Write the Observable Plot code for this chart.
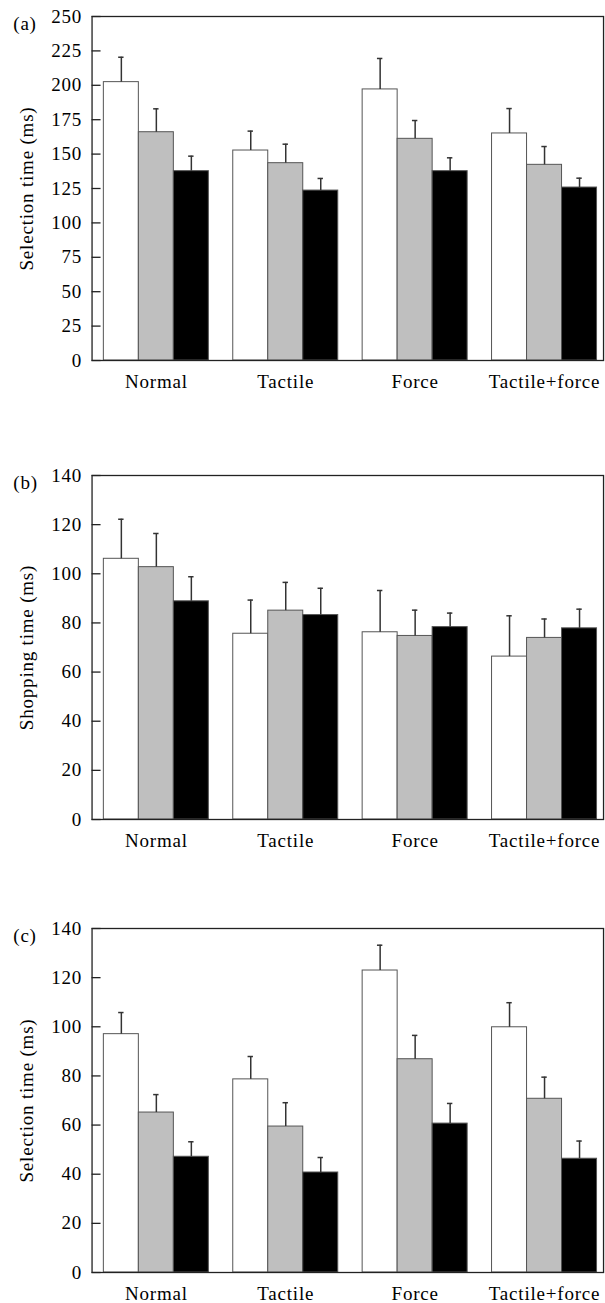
<!DOCTYPE html>
<html>
<head>
<meta charset="utf-8">
<script src="https://cdn.jsdelivr.net/npm/d3@7"></script>
<script src="https://cdn.jsdelivr.net/npm/@observablehq/plot@0.6"></script>
<style>
  html, body { margin: 0; padding: 0; background: white; }
  #chart svg { display: block; }
</style>
</head>
<body>
<div id="chart"></div>
<script>
// Categories
const groups = ["Normal", "Tactile", "Force", "Tactile+force"];
const seriesKeys = ["1", "2", "3"];

// Panel (a) Selection time (ms)
const aWhite = [202.3, 152.6, 197.0, 165.0];
const aGray  = [165.9, 143.4, 161.1, 142.2];
const aBlack = [137.6, 123.5, 137.6, 125.7];
const aWhiteErr = [18.1, 14.1, 22.5, 18.1];
const aGrayErr  = [17.0, 13.8, 13.3, 13.3];
const aBlackErr = [10.9, 8.8, 9.7, 6.8];
const aTicks = [0, 25, 50, 75, 100, 125, 150, 175, 200, 225, 250];

// Panel (b) Shopping time (ms)
const bWhite = [106.1, 75.6, 76.2, 66.3];
const bGray  = [102.7, 85.0, 74.7, 73.9];
const bBlack = [88.8, 83.2, 78.3, 77.8];
const bWhiteErr = [16.1, 13.7, 17.0, 16.6];
const bGrayErr  = [13.7, 11.5, 10.5, 7.7];
const bBlackErr = [10.0, 10.9, 5.7, 7.8];
const bTicks = [0, 20, 40, 60, 80, 100, 120, 140];

// Panel (c) Selection time (ms)
const cWhite = [97.0, 78.6, 122.9, 99.8];
const cGray  = [65.1, 59.4, 86.8, 70.7];
const cBlack = [47.1, 40.7, 60.6, 46.3];
const cWhiteErr = [8.8, 9.3, 10.3, 10.0];
const cGrayErr  = [7.3, 9.7, 9.7, 8.8];
const cBlackErr = [6.1, 6.1, 8.2, 7.2];
const cTicks = [0, 20, 40, 60, 80, 100, 120, 140];

function rowsOf(vals, errs) {
  const rows = [];
  groups.forEach((g, gi) => {
    seriesKeys.forEach((s, si) => {
      rows.push({group: g, series: s, value: vals[si][gi], err: errs[si][gi]});
    });
  });
  return rows;
}

const font = "'Liberation Serif', 'Times New Roman', Times, serif";

function panel({letter, rows, yMax, yTicks, yLabel, height, marginBottom}) {
  return Plot.plot({
    width: 605,
    height,
    marginTop: 16,
    marginBottom,
    marginLeft: 91.5,
    marginRight: 1.5,
    style: {fontFamily: font, fontSize: "19px", letterSpacing: "0.8px", background: "white", color: "black", overflow: "visible"},
    fx: {domain: groups, paddingInner: 0.1886, paddingOuter: 0.0727, align: 0.63, round: false, label: null},
    x: {domain: seriesKeys, padding: 0, round: false, axis: null},
    y: {domain: [0, yMax], label: null},
    color: {domain: seriesKeys, range: ["white", "#bfbfbf", "black"]},
    marks: [
      Plot.barY(rows, {fx: "group", x: "series", y: "value", fill: "series", stroke: "#555", strokeWidth: 1, inset: 0}),
      Plot.ruleX(rows, {fx: "group", x: "series", y1: "value", y2: d => d.value + d.err, stroke: "#333", strokeWidth: 1.5}),
      Plot.tickY(rows, {fx: "group", x: "series", y: d => d.value + d.err, stroke: "#333", strokeWidth: 1.5, insetLeft: 14.8, insetRight: 14.8}),
      Plot.axisFx({anchor: "bottom", tickSize: 0, tickPadding: 14, label: null}),
      Plot.axisY(yTicks, {tickSize: -9, text: null, dx: -11.8, stroke: "#222", strokeWidth: 1.3, label: null}),
      Plot.axisY(yTicks, {tickSize: 0, tickPadding: 10, dx: -11.8, label: null}),
      Plot.frame({facet: "super", stroke: "#222", strokeWidth: 1.3, insetLeft: -11.8, insetRight: -6.5}),
      Plot.text([yLabel], {facet: "super", frameAnchor: "left", textAnchor: "middle", lineAnchor: "middle", rotate: -90, dx: -76.6}),
      Plot.text([letter], {facet: "super", frameAnchor: "top-left", textAnchor: "start", dx: -90.6})
    ]
  });
}

const chart = document.getElementById("chart");
chart.append(panel({
  letter: "(a)",
  rows: rowsOf([aWhite, aGray, aBlack], [aWhiteErr, aGrayErr, aBlackErr]),
  yMax: 250, yTicks: aTicks, yLabel: "Selection time (ms)",
  height: 459, marginBottom: 99
}));
chart.append(panel({
  letter: "(b)",
  rows: rowsOf([bWhite, bGray, bBlack], [bWhiteErr, bGrayErr, bBlackErr]),
  yMax: 140, yTicks: bTicks, yLabel: "Shopping time (ms)",
  height: 453, marginBottom: 93
}));
chart.append(panel({
  letter: "(c)",
  rows: rowsOf([cWhite, cGray, cBlack], [cWhiteErr, cGrayErr, cBlackErr]),
  yMax: 140, yTicks: cTicks, yLabel: "Selection time (ms)",
  height: 391, marginBottom: 31
}));
</script>
</body>
</html>
